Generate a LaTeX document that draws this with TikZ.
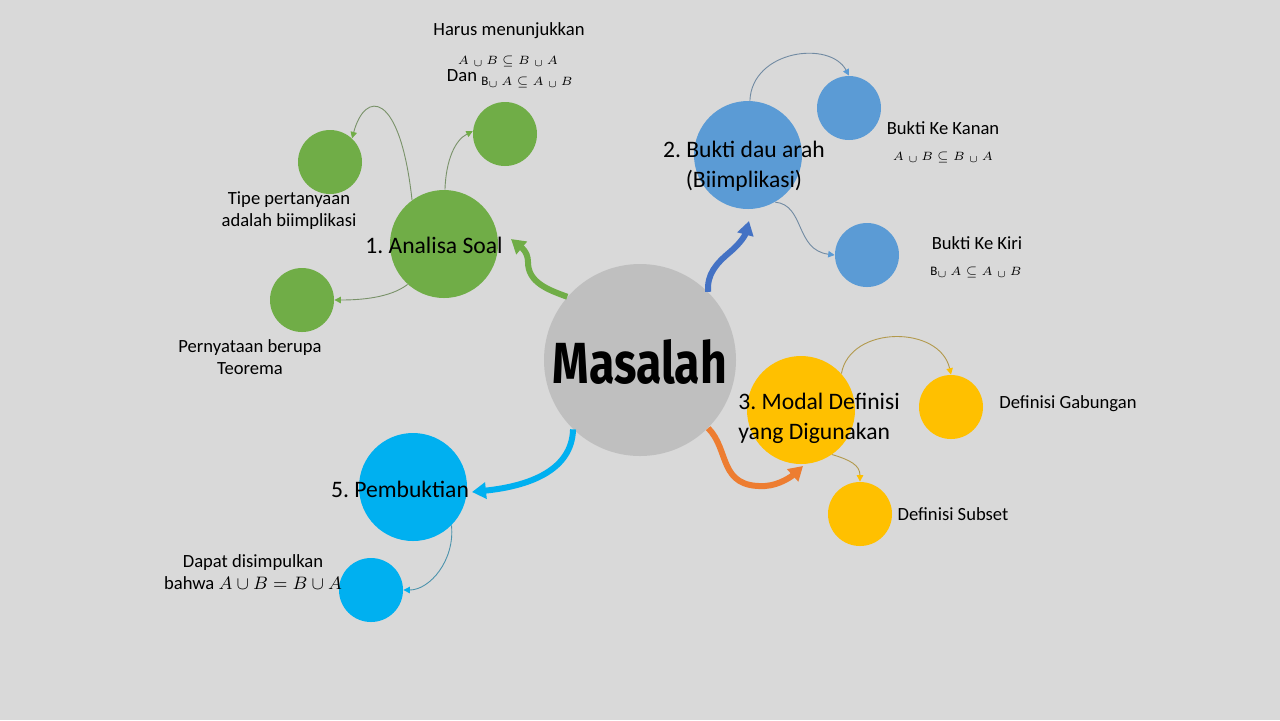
\documentclass[tikz,border=0pt]{standalone}
\usepackage{fontspec}
\usepackage{amsmath}
\usepackage{graphicx}
\setmainfont{Carlito}
\newfontfamily\titlefont{Fira Sans}
\usetikzlibrary{arrows.meta}
\frenchspacing

\definecolor{bggray}{HTML}{D9D9D9}
\definecolor{hubgray}{HTML}{BFBFBF}
\definecolor{soalgreen}{HTML}{70AD47}
\definecolor{buktiblue}{HTML}{5B9BD5}
\definecolor{arrowblue}{HTML}{4472C4}
\definecolor{modalgold}{HTML}{FFC000}
\definecolor{modalorange}{HTML}{ED7D31}
\definecolor{bukticyan}{HTML}{00B0F0}

\begin{document}
\begin{tikzpicture}[x=0.5pt, y=-0.5pt,
    ball/.style={circle, inner sep=0pt, minimum size=#1},
    smalltxt/.style={align=center, inner sep=0pt, font=\fontsize{9.3}{11}\selectfont},
    bigtxt/.style={align=center, inner sep=0pt, font=\fontsize{11.8}{15}\selectfont},
    mathtxt/.style={inner sep=0pt, font=\fontsize{6.5}{8}\selectfont},
    thick arrow/.style={line width=3pt, #1, -{Triangle[length=7pt,width=8pt]}},
    thin arrow/.style={line width=0.45pt, draw=#1!40!gray, -{Triangle[length=3.2pt,width=3.2pt,color=#1,fill=#1]}}
  ]
  % Background
  \fill[bggray] (0,0) rectangle (1280,720);

  % Centre
  \node[ball=96pt, fill=hubgray] (hub) at (640,360) {};
  \node[font=\titlefont\bfseries\fontsize{29}{30}\selectfont] (hubtxt) at (640,362) {\scalebox{0.8}[1]{Masalah}};

  % 1. Analisa Soal
  \node[ball=54pt, fill=soalgreen] (soal) at (444,244) {};
  \node[ball=32pt, fill=soalgreen] (soalA) at (330,162) {};
  \node[ball=32pt, fill=soalgreen] (soalB) at (505,134) {};
  \node[ball=32pt, fill=soalgreen] (soalC) at (302,300) {};
  \node[bigtxt] (soaltxt) at (434,245) {1. Analisa Soal};
  \node[smalltxt] (soalAtxt) at (289,211) {Tipe pertanyaan\\adalah biimplikasi};
  \node[smalltxt] (soalCtxt) at (250,357) {Pernyataan berupa\\Teorema};
  \node[smalltxt] (soalBtxt) at (509,31) {Harus menunjukkan};
  \node[mathtxt] (soalBm1) at (508,61) {$A\;{}_{\cup}\,B \subseteq B\;{}_{\cup}\,A$};
  \node[smalltxt] (soalBdan) at (462,76) {Dan};
  \node[mathtxt] (soalBm2) at (527,82) {$\mathrm{B}{}_{\cup}\,A \subseteq A\;{}_{\cup}\,B$};

  % 2. Bukti dua arah
  \node[ball=54pt, fill=buktiblue] (arah) at (748,155) {};
  \node[ball=32pt, fill=buktiblue] (arahA) at (849,108) {};
  \node[ball=32pt, fill=buktiblue] (arahB) at (867,255) {};
  \node[bigtxt] (arahtxt) at (744,166) {2. Bukti dau arah\\(Biimplikasi)};
  \node[smalltxt] (arahAtxt) at (943,128) {Bukti Ke Kanan};
  \node[mathtxt] (arahAm) at (943,157) {$A\;{}_{\cup}\,B \subseteq B\;{}_{\cup}\,A$};
  \node[smalltxt] (arahBtxt) at (977,243) {Bukti Ke Kiri};
  \node[mathtxt] (arahBm) at (976,272) {$\mathrm{B}{}_{\cup}\,A \subseteq A\;{}_{\cup}\,B$};

  % 3. Modal Definisi
  \node[ball=54pt, fill=modalgold] (modal) at (801,410) {};
  \node[ball=32pt, fill=modalgold] (modalA) at (951,407) {};
  \node[ball=32pt, fill=modalgold] (modalB) at (860,514) {};
  \node[bigtxt, align=left, anchor=west] (modaltxt) at (738,418) {3. Modal Definisi\\yang Digunakan};
  \node[smalltxt] (modalAtxt) at (1068,404) {Definisi Gabungan};
  \node[smalltxt] (modalBtxt) at (953,514) {Definisi Subset};

  % 5. Pembuktian
  \node[ball=54pt, fill=bukticyan] (bukti) at (413,487) {};
  \node[ball=32pt, fill=bukticyan] (buktiA) at (371,590) {};
  \node[bigtxt] (buktitxt) at (400,489) {5. Pembuktian};
  \node[smalltxt] (buktiAtxt) at (253,572) {Dapat disimpulkan\\bahwa $A \cup B = B \cup A$};

  % Free ends of the thick arrows
  \coordinate (soaltip) at (511,239);
  \coordinate (arahtip) at (749,221);
  \coordinate (modaltip) at (803,466);
  \coordinate (buktitip) at (472,492);

  % Thick arrows from the centre
  \draw[thick arrow=soalgreen] (hub.139) to[out=160,in=-90] (528,262) to[out=90,in=-40] (soaltip);
  \draw[thick arrow=arrowblue] (hub.45) to[out=95,in=-140] (730,252) to[out=40,in=-105] (arahtip);
  \draw[thick arrow=modalorange] (hub.-45) .. controls (730,450) and (718,488) .. (765,486) .. controls (780,485) and (792,476) .. (modaltip);
  \draw[thick arrow=bukticyan] (hub.-134) .. controls (572,470) and (530,486) .. (buktitip);

  % Thin arrows to the small circles
  \draw[thin arrow=soalgreen] (soal.126) .. controls (400,90) and (365,90) .. (soalA.47);
  \draw[thin arrow=soalgreen] (soal.89) .. controls (446,160) and (455,140) .. (soalB.175);
  \draw[thin arrow=soalgreen] (soal.-132) .. controls (390,298) and (360,300) .. (soalC.east);
  \draw[thin arrow=buktiblue] (arah.88) .. controls (752,50) and (830,40) .. (arahA.north);
  \draw[thin arrow=buktiblue] (arah.-60) .. controls (805,205) and (795,250) .. (arahB.west);
  \draw[thin arrow=modalgold] (modal.42) .. controls (850,325) and (940,325) .. (modalA.north);
  \draw[thin arrow=modalgold] (modal.-55) .. controls (850,460) and (860,465) .. (modalB.north);
  \draw[thin arrow=bukticyan] (bukti.-45) .. controls (455,560) and (430,590) .. (buktiA.east);
\end{tikzpicture}
\end{document}
